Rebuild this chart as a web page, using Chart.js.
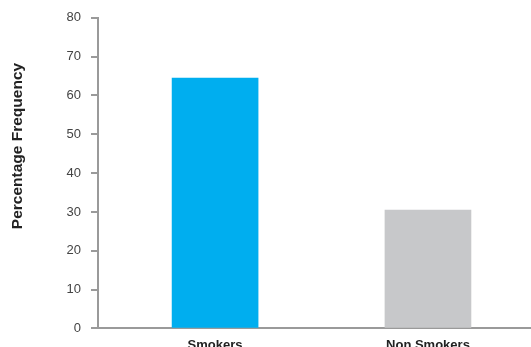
<!DOCTYPE html>
<html><head><meta charset="utf-8">
<script src="https://cdn.jsdelivr.net/npm/chart.js@4/dist/chart.umd.min.js"></script>
<style>
html,body{margin:0;padding:0;background:#fff;overflow:hidden}
#wrap{width:531px;height:347px;overflow:hidden;position:relative}
canvas{display:block}
</style></head><body>
<div id="wrap"><canvas id="c" width="531" height="362"></canvas></div>
<script>
const categories = ["Smokers", "Non Smokers"];
const values = [64.5, 30.5];
const barColors = ["#00AEEF", "#C7C8CA"];
const yTicks = [0, 10, 20, 30, 40, 50, 60, 70, 80];
const yTitle = "Percentage Frequency";

const titlePlugin = {
  id: 'yTitle',
  afterDraw(chart) {
    const ctx = chart.ctx;
    ctx.save();
    ctx.translate(18, 146);
    ctx.rotate(-Math.PI / 2);
    ctx.font = 'bold 15.5px "Liberation Sans", Arial, sans-serif';
    ctx.fillStyle = '#222';
    ctx.textAlign = 'center';
    ctx.textBaseline = 'middle';
    ctx.fillText(yTitle, 0, 0);
    ctx.restore();
  }
};

new Chart(document.getElementById('c'), {
  type: 'bar',
  data: {
    datasets: [{
      data: values.map((v, i) => ({ x: i, y: v })),
      backgroundColor: barColors,
      barThickness: 86
    }]
  },
  options: {
    responsive: false,
    animation: false,
    layout: { padding: { top: 14, left: 0, right: 0, bottom: 0 } },
    plugins: { legend: { display: false }, tooltip: { enabled: false } },
    scales: {
      x: {
        type: 'linear',
        offset: false,
        min: -0.55, max: 1.484,
        afterBuildTicks(axis) { axis.ticks = categories.map((c, i) => ({ value: i })); },
        ticks: {
          callback: (v) => categories[v] ?? '',
          color: '#222',
          font: { family: '"Liberation Sans", Arial, sans-serif', size: 13, weight: 'bold' },
          padding: 9,
          maxRotation: 0, autoSkip: false
        },
        grid: { display: false, drawTicks: false },
        border: { color: '#9a9a9a', width: 2 }
      },
      y: {
        min: 0, max: 80,
        afterBuildTicks(axis) { axis.ticks = yTicks.map(v => ({ value: v })); },
        afterFit(scale) { scale.width = 98; },
        ticks: {
          color: '#444',
          font: { family: '"Liberation Sans", Arial, sans-serif', size: 13 },
          padding: 10
        },
        grid: { drawOnChartArea: false, drawTicks: true, tickLength: 7, color: '#9a9a9a', lineWidth: 2 },
        border: { color: '#9a9a9a', width: 2 }
      }
    }
  },
  plugins: [titlePlugin]
});
</script>
</body></html>
